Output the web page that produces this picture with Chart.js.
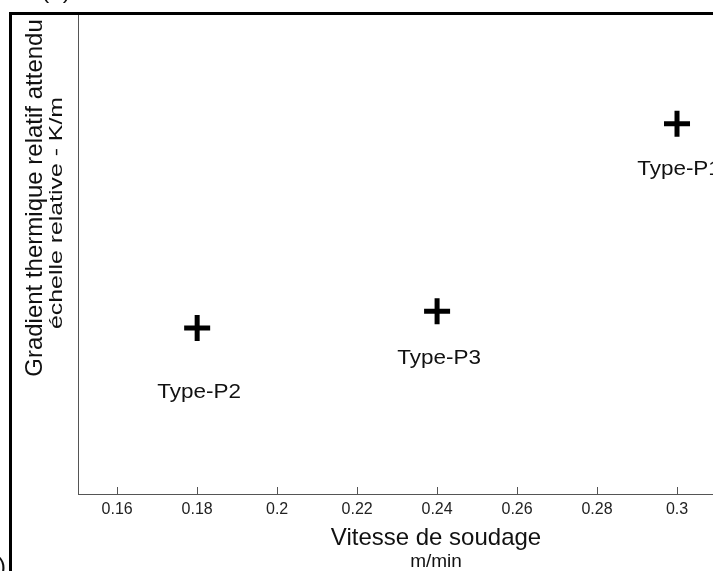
<!DOCTYPE html>
<html>
<head>
<meta charset="utf-8">
<script src="https://cdn.jsdelivr.net/npm/chart.js@4.4.1/dist/chart.umd.min.js"></script>
<style>
  html, body { margin: 0; padding: 0; background: #fff; }
  #wrap { width: 713px; height: 571px; position: relative; }
</style>
</head>
<body>
<div id="wrap"><canvas id="vitesseChart"></canvas></div>
<script>
// vitesse de soudage (m/min) et gradient relatif (échelle relative)
const types = ['Type-P1', 'Type-P2', 'Type-P3'];
const vitesses = [0.30, 0.18, 0.24];
const gradients = [77.0, 34.5, 38.0];
const xTicks = [0.16, 0.18, 0.2, 0.22, 0.24, 0.26, 0.28, 0.3];

const FONT = '"Liberation Sans", Arial, sans-serif';
const labelDy = [46, 64, 47]; // décalage du texte sous chaque marqueur

const annotations = {
    id: 'annotations',
    afterDraw(chart) {
        const ctx = chart.ctx;
        const area = chart.chartArea;
        const xs = chart.scales.x;

        ctx.save();

        // petites graduations vers l'intérieur
        ctx.strokeStyle = '#555';
        ctx.lineWidth = 1;
        xTicks.forEach(v => {
            const px = Math.round(xs.getPixelForValue(v)) + 0.5;
            ctx.beginPath();
            ctx.moveTo(px, area.bottom);
            ctx.lineTo(px, area.bottom - 7);
            ctx.stroke();
        });

        // étiquettes des points
        ctx.fillStyle = '#111';
        ctx.textAlign = 'center';
        ctx.textBaseline = 'middle';
        ctx.font = '21px ' + FONT;
        const meta = chart.getDatasetMeta(0);
        meta.data.forEach((pt, i) => {
            ctx.save();
            ctx.translate(pt.x + 2, pt.y + labelDy[i]);
            ctx.scale(1.07, 1);
            ctx.fillText(types[i], 0, 0);
            ctx.restore();
        });

        // titre de l'axe x
        ctx.font = '24px ' + FONT;
        ctx.fillText('Vitesse de soudage', 436, 538);
        ctx.font = '19px ' + FONT;
        ctx.fillText('m/min', 436, 562);

        // titre de l'axe y
        ctx.save();
        ctx.translate(35, 198);
        ctx.rotate(-Math.PI / 2);
        ctx.font = '24px ' + FONT;
        ctx.fillText('Gradient thermique relatif attendu', 0, 0);
        ctx.restore();

        ctx.save();
        ctx.translate(57, 213);
        ctx.rotate(-Math.PI / 2);
        ctx.font = '19px ' + FONT;
        const sub = 'échelle relative - K/m';
        const w = ctx.measureText(sub).width;
        ctx.scale(232 / w, 1);
        ctx.fillText(sub, 0, 0);
        ctx.restore();

        // cadre extérieur
        ctx.strokeStyle = '#000';
        ctx.lineWidth = 3;
        ctx.strokeRect(10.5, 13.5, 800, 700);

        // restes des repères de sous-figure
        ctx.font = '24px ' + FONT;
        ctx.textBaseline = 'alphabetic';
        ctx.textAlign = 'center';
        ctx.fillText('(a)', 56, -2);
        ctx.textAlign = 'right';
        ctx.fillText('(b)', 6, 574);

        ctx.restore();
    }
};

const chart = new Chart(document.getElementById('vitesseChart'), {
    type: 'scatter',
    data: {
        datasets: [{
            label: 'Gradient',
            data: vitesses.map((v, i) => ({ x: v, y: gradients[i] })),
            pointStyle: 'cross',
            pointRadius: 13,
            pointHoverRadius: 13,
            borderWidth: 5,
            borderColor: '#000',
            backgroundColor: '#000'
        }]
    },
    options: {
        responsive: true,
        maintainAspectRatio: false,
        animation: false,
        layout: {
            autoPadding: false,
            padding: { left: 78, top: 13, right: 0, bottom: 0 }
        },
        plugins: {
            legend: { display: false },
            tooltip: { enabled: false }
        },
        scales: {
            x: {
                type: 'linear',
                min: 0.1502,
                max: 0.309,
                afterBuildTicks: scale => {
                    scale.ticks = xTicks.map(v => ({ value: v }));
                },
                afterFit: scale => {
                    scale.height = 77;
                    scale.paddingLeft = 0;
                    scale.paddingRight = 0;
                },
                grid: { display: false, drawTicks: false },
                border: { display: true, color: '#555', width: 1 },
                ticks: {
                    padding: 6,
                    color: '#222',
                    font: { family: FONT, size: 16 },
                    maxRotation: 0,
                    autoSkip: false,
                    callback: v => String(Number(v.toFixed(2)))
                }
            },
            y: {
                min: 0,
                max: 100,
                afterFit: scale => {
                    scale.width = 0;
                    scale.paddingTop = 0;
                    scale.paddingBottom = 0;
                },
                grid: { display: false, drawTicks: false },
                border: { display: true, color: '#555', width: 1 },
                ticks: { display: false }
            }
        }
    },
    plugins: [annotations]
});
</script>
</body>
</html>
